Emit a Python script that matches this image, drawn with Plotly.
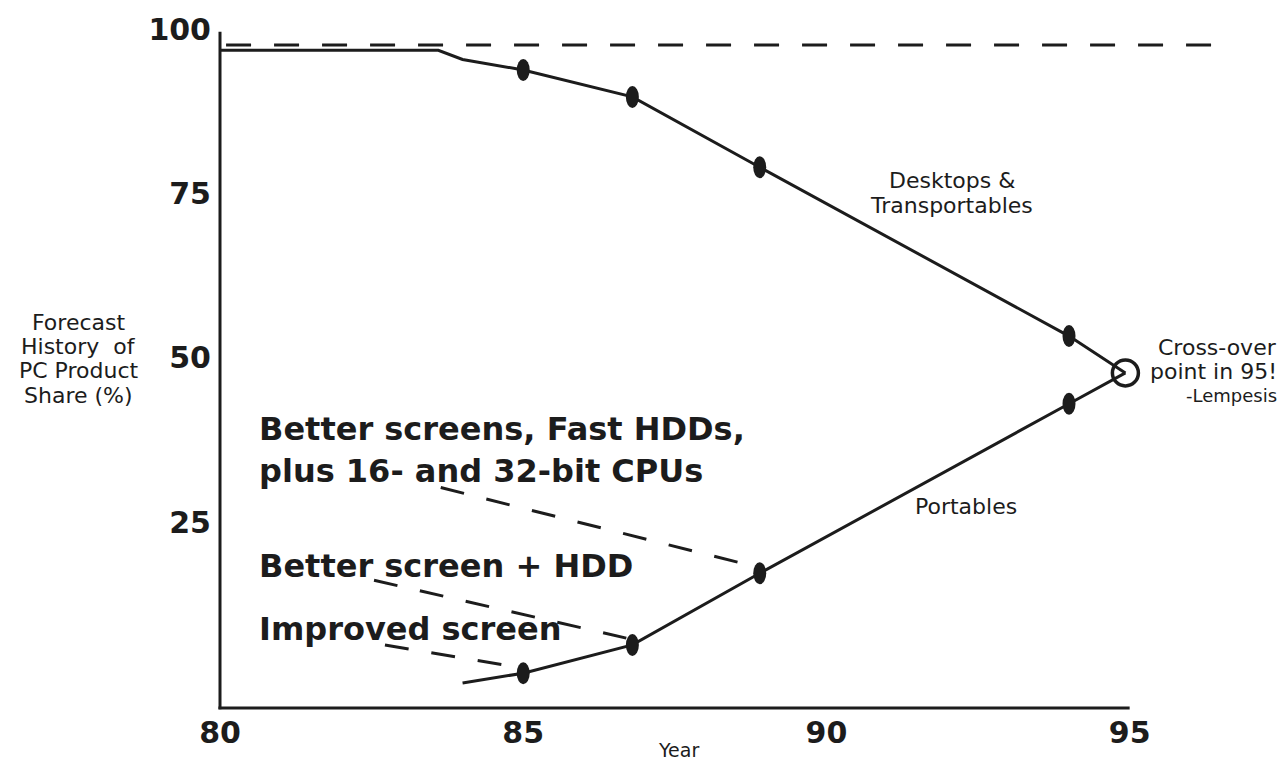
import plotly.graph_objects as go

# ---- data -------------------------------------------------------------
# Desktops & transportables share (%) by year (19xx)
desk_years = [80.0, 83.6, 84.0, 85.0, 86.8, 88.9, 94.0, 94.93]
desk_share = [96.8, 96.8, 95.4, 93.8, 89.7, 79.0, 53.3, 47.7]

# Portables share (%) by year
port_years = [84.0, 85.0, 86.8, 88.9, 94.0, 94.93]
port_share = [0.5, 2.0, 6.3, 17.2, 43.0, 47.7]

# Forecast points marked on both curves
forecast_years = [85.0, 86.8, 88.9, 94.0]
desk_forecast = [93.8, 89.7, 79.0, 53.3]
port_forecast = [2.0, 6.3, 17.2, 43.0]

# Cross-over point
cross_year = [94.93]
cross_share = [47.7]

# Dashed ceiling line
ceiling_years = [80.1, 96.7]
ceiling_share = [97.6, 97.6]

# Callout leader lines (start -> end)
lead_x0 = [83.64, 82.54, 82.72]
lead_y0 = [30.25, 16.14, 6.28]
lead_x1 = [88.61, 86.70, 84.69]
lead_y1 = [18.72, 7.34, 3.25]

x_ticks = [80, 85, 90, 95]
x_ticktext = ["80", "85", "90", "95"]
y_ticks = [25, 50, 75, 100]
y_ticktext = ["25", "50", "75", "100"]

# ---- style ------------------------------------------------------------
INK = "#1c1c1c"
FONT = "DejaVu Sans"
X_RANGE = [80.0, 97.1]
Y_RANGE = [-3.3, 101.1]


def paper_x(v):
    return (v - X_RANGE[0]) / (X_RANGE[1] - X_RANGE[0])


def paper_y(v):
    return (v - Y_RANGE[0]) / (Y_RANGE[1] - Y_RANGE[0])


fig = go.Figure()

# ceiling
fig.add_trace(go.Scatter(
    x=ceiling_years, y=ceiling_share, mode="lines",
    line=dict(color=INK, width=3, dash="25px,23px"), hoverinfo="skip"))

# leader lines
for xa, ya, xb, yb in zip(lead_x0, lead_y0, lead_x1, lead_y1):
    fig.add_trace(go.Scatter(
        x=[xa, xb], y=[ya, yb], mode="lines",
        line=dict(color=INK, width=3, dash="24px,23px"), hoverinfo="skip"))

# main curves
fig.add_trace(go.Scatter(x=desk_years, y=desk_share, mode="lines",
                         line=dict(color=INK, width=3)))
fig.add_trace(go.Scatter(x=port_years, y=port_share, mode="lines",
                         line=dict(color=INK, width=3)))

# cross-over ring
fig.add_trace(go.Scatter(
    x=cross_year, y=cross_share, mode="markers",
    marker=dict(symbol="circle-open", size=26, color=INK,
                line=dict(width=3.5, color=INK))))

shapes = []
# elliptical forecast markers
for xs, ys in ((forecast_years, desk_forecast), (forecast_years, port_forecast)):
    for xv, yv in zip(xs, ys):
        shapes.append(dict(
            type="circle", xref="x", yref="y",
            xsizemode="pixel", ysizemode="pixel",
            xanchor=xv, yanchor=yv,
            x0=-6.5, x1=6.5, y0=-11, y1=11,
            fillcolor=INK, line=dict(width=0)))

# axis lines
shapes.append(dict(type="line", xref="paper", yref="paper",
                   x0=0, x1=0, y0=-0.002, y1=paper_y(99.6),
                   line=dict(color=INK, width=3)))
shapes.append(dict(type="line", xref="paper", yref="paper",
                   x0=-0.0015, x1=paper_x(95), y0=0, y1=0,
                   line=dict(color=INK, width=3)))


def label(text, x, y, size, bold=False, xanchor="center"):
    # positions given in axis units, placed on the paper so that
    # labels outside the axis ranges stay visible
    return dict(text=text, x=paper_x(x), y=paper_y(y),
                xref="paper", yref="paper",
                xanchor=xanchor, yanchor="middle", showarrow=False,
                align=xanchor if xanchor != "center" else "center",
                font=dict(family=FONT, size=size, color=INK,
                          weight="bold" if bold else "normal"))


annotations = [
    label("Better screens, Fast HDDs,<br>plus 16- and 32-bit CPUs",
          80.61, 35.9, 32, True, "left"),
    label("Better screen + HDD", 80.61, 18.27, 32, True, "left"),
    label("Improved screen", 80.61, 8.7, 32, True, "left"),
    label("Desktops &amp;", 92.07, 77.0, 22),
    label("Transportables", 92.07, 73.1, 22),
    label("Portables", 92.3, 27.4, 22),
    label("Cross-over", 97.46, 51.5, 22, xanchor="right"),
    label("point in 95!", 97.46, 47.86, 22, xanchor="right"),
    label("-Lempesis", 97.46, 44.2, 18, xanchor="right"),
    label("Forecast", 77.67, 55.3, 22),
    label("History\u00a0 of", 77.67, 51.65, 22),
    label("PC Product", 77.67, 48.0, 22),
    label("Share (%)", 77.67, 44.2, 22),
    label("Year", 87.56, -9.7, 19),
]

fig.update_layout(
    width=1283, height=765,
    margin=dict(l=220, r=26, t=20, b=57),
    paper_bgcolor="white", plot_bgcolor="white",
    showlegend=False,
    shapes=shapes,
    annotations=annotations,
    xaxis=dict(range=X_RANGE, tickvals=x_ticks, ticktext=x_ticktext,
               showgrid=False, zeroline=False, showline=False, ticks="",
               ticklabelstandoff=4,
               tickfont=dict(family=FONT, size=30, color=INK, weight="bold")),
    yaxis=dict(range=Y_RANGE, tickvals=y_ticks, ticktext=y_ticktext,
               showgrid=False, zeroline=False, showline=False, ticks="",
               ticklabelstandoff=8,
               tickfont=dict(family=FONT, size=30, color=INK, weight="bold")),
)

fig.write_html("out.html")
